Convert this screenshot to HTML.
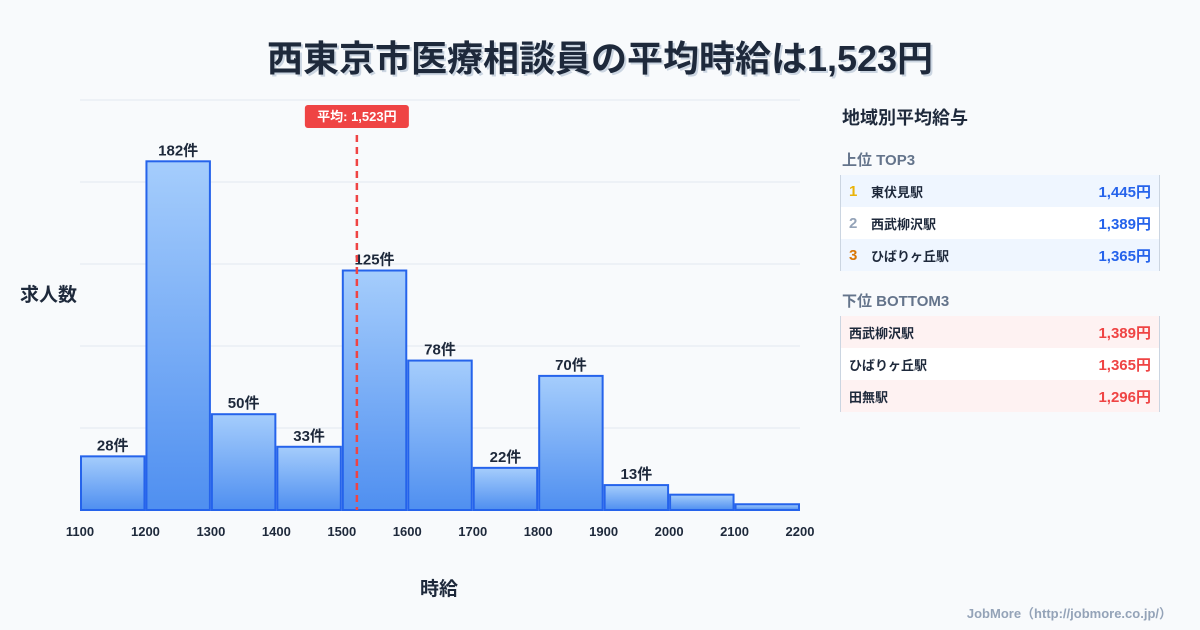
<!DOCTYPE html>
<html><head><meta charset="utf-8">
<style>
body{margin:0;width:1200px;height:630px;background:#f8fafc;font-family:"Liberation Sans","Noto Sans CJK JP",sans-serif;overflow:hidden;position:relative}
.t{position:absolute;left:0;width:1200px;top:30px;text-align:center;font-size:36px;font-weight:bold;color:#1e293b;text-shadow:2px 2px 0 #cbd5e1}
.panel{position:absolute;left:840px;width:320px}
.h{position:absolute;font-weight:bold}
.row{height:32px;display:flex;align-items:center;font-size:13px;font-weight:bold;color:#1e293b;border-left:1px solid #cbd5e1;border-right:1px solid #cbd5e1;box-sizing:border-box;padding:0 8px}
.row .v{margin-left:auto;font-size:15px}
.rk{width:22px;font-size:15px}
</style></head><body>
<div class="t">西東京市医療相談員の平均時給は1,523円</div>
<svg id="c" width="820" height="630" style="position:absolute;left:0;top:0">
<defs><linearGradient id="g" x1="0" y1="0" x2="0" y2="1"><stop offset="0" stop-color="#a5cdfc"/><stop offset="1" stop-color="#4f8ff0"/></linearGradient></defs>
</svg>
<div class="h" style="left:20px;top:280px;font-size:19px;color:#1e293b">求人数</div>
<div class="h" style="left:420px;top:574px;font-size:19px;color:#1e293b">時給</div>
<div class="h" style="left:842px;top:104px;font-size:18px;color:#1e293b">地域別平均給与</div>
<div class="h" style="left:842px;top:149px;font-size:15px;color:#64748b">上位 TOP3</div>
<div class="panel" style="top:175px">
<div class="row" style="background:#eff6ff"><span class="rk" style="color:#eab308">1</span>東伏見駅<span class="v" style="color:#2563eb">1,445円</span></div>
<div class="row" style="background:#fff"><span class="rk" style="color:#94a3b8">2</span>西武柳沢駅<span class="v" style="color:#2563eb">1,389円</span></div>
<div class="row" style="background:#eff6ff"><span class="rk" style="color:#d97706">3</span>ひばりヶ丘駅<span class="v" style="color:#2563eb">1,365円</span></div>
</div>
<div class="h" style="left:842px;top:290px;font-size:15px;color:#64748b">下位 BOTTOM3</div>
<div class="panel" style="top:316px">
<div class="row" style="background:#fef2f2">西武柳沢駅<span class="v" style="color:#ef4444">1,389円</span></div>
<div class="row" style="background:#fff">ひばりヶ丘駅<span class="v" style="color:#ef4444">1,365円</span></div>
<div class="row" style="background:#fef2f2">田無駅<span class="v" style="color:#ef4444">1,296円</span></div>
</div>
<div class="h" style="right:28px;top:603px;font-size:13px;color:#94a3b8">JobMore（http://jobmore.co.jp/）</div>
<script>
const binStarts=[1100,1200,1300,1400,1500,1600,1700,1800,1900,2000,2100];
const counts=[28,182,50,33,125,78,22,70,13,8,3];
const showLabel=[true,true,true,true,true,true,true,true,true,false,false];
const xTicks=[1100,1200,1300,1400,1500,1600,1700,1800,1900,2000,2100,2200];
const meanValue=1523;
const binWidth=100;
const svg=document.getElementById('c');const NS='http://www.w3.org/2000/svg';
const xMin=1100,xMax=2200,yMax=214,L=80,R=800,T=100,B=510;
const X=v=>L+(v-xMin)/(xMax-xMin)*(R-L);
const Y=v=>B-v/yMax*(B-T);
function mk(t,a){const e=document.createElementNS(NS,t);for(const k in a)e.setAttribute(k,a[k]);svg.appendChild(e);return e;}
for(let i=1;i<=5;i++){const e=mk('line',{x1:L,x2:R,y1:Y(yMax*i/5),y2:Y(yMax*i/5),stroke:'#e2e8f0'});

}
binStarts.forEach((s,i)=>{const x0=X(s)+1,x1=X(s+binWidth)-1;
const r=mk('rect',{x:x0,y:Y(counts[i]),width:x1-x0,height:B-Y(counts[i]),fill:'url(#g)',stroke:'#2563eb','stroke-width':2});


if(showLabel[i]){const t=mk('text',{x:(x0+x1)/2,y:Y(counts[i])-6,'text-anchor':'middle','font-size':15,'font-weight':'bold',fill:'#1e293b'});t.textContent=counts[i]+'件';

}});
xTicks.forEach(v=>{const t=mk('text',{x:X(v),y:536,'text-anchor':'middle','font-size':13,'font-weight':'bold',fill:'#1e293b'});t.textContent=v;

});
const mx=X(meanValue);
const ml=mk('line',{x1:mx,x2:mx,y1:135,y2:B,stroke:'#ef4444','stroke-width':2.5,'stroke-dasharray':'7,5'});


const mb=mk('rect',{x:mx-52,y:105,width:104,height:23,rx:3,fill:'#ef4444'});


const mt=mk('text',{x:mx,y:121,'text-anchor':'middle','font-size':13,'font-weight':'bold',fill:'#fff'});mt.textContent='平均: 1,523円';


</script>
</body></html>
